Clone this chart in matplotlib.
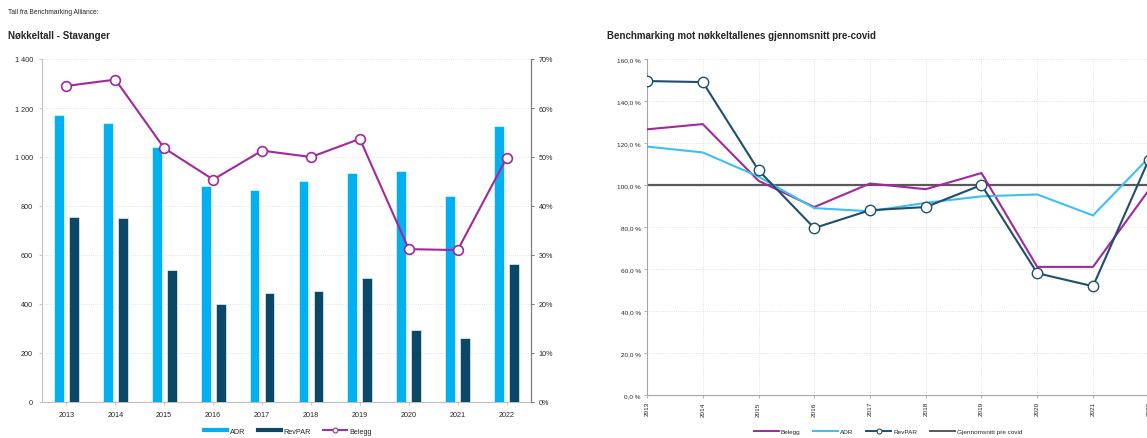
import numpy as np
import matplotlib
matplotlib.use("Agg")
import matplotlib.pyplot as plt
from matplotlib.lines import Line2D
from matplotlib.ticker import FuncFormatter, MultipleLocator

plt.rcParams['font.family'] = ['Liberation Sans', 'DejaVu Sans']

# Nøkkeltall Stavanger
years = ['2013', '2014', '2015', '2016', '2017', '2018', '2019', '2020', '2021', '2022']
adr = [1170, 1140, 1040, 880, 865, 903, 935, 942, 842, 1128]
revpar = [755, 750, 540, 400, 445, 452, 505, 293, 260, 563]
belegg = [64.5, 65.8, 51.8, 45.4, 51.3, 50.0, 53.7, 31.2, 31.0, 49.8]

# Indeks mot gjennomsnitt pre-covid (%)
idx_belegg = [126.5, 129.0, 102.0, 89.5, 100.7, 98.0, 105.7, 61.0, 61.0, 97.5]
idx_adr = [118.3, 115.5, 104.0, 89.0, 87.5, 91.5, 94.6, 95.5, 85.5, 113.0]
idx_revpar = [149.5, 149.0, 107.0, 79.5, 88.0, 89.5, 100.0, 58.0, 51.8, 112.0]
snitt_pre_covid = 100.0

c_adr = '#00b0f0'
c_revpar = '#0b4868'
c_belegg = '#a3289b'
c_snitt = '#595959'
c_text = '#262626'

W, H = 1147, 439
fig = plt.figure(figsize=(W / 100, H / 100), dpi=100)


def fx(px):
    return px / W


def fy(px):
    return 1 - px / H


fig.text(fx(8), fy(12), 'Tall fra Benchmarking Alliance:', fontsize=4.8,
         color=c_text, va='center')
fig.text(fx(8), fy(36), 'Nøkkeltall - Stavanger', fontsize=7,
         fontweight='bold', color=c_text, va='center')
fig.text(fx(607), fy(36), 'Benchmarking mot nøkkeltallenes gjennomsnitt pre-covid',
         fontsize=7, fontweight='bold', color=c_text, va='center')

# ---- left chart: bars + occupancy line ----
ax = fig.add_axes([fx(42), fy(403), fx(531 - 42), (403 - 60) / H])
x = np.arange(len(years))
ax.bar(x - 0.153, adr, width=0.2, color=c_adr, edgecolor='white', linewidth=0.4, zorder=3)
ax.bar(x + 0.153, revpar, width=0.2, color=c_revpar, edgecolor='white', linewidth=0.4, zorder=3)
ax.set_xlim(-0.5, len(years) - 0.5)
ax.set_ylim(0, 1400)
ax.yaxis.set_major_locator(MultipleLocator(200))
ax.yaxis.set_major_formatter(FuncFormatter(lambda v, p: f'{v:,.0f}'.replace(',', ' ')))
ax.set_xticks(x)
ax.set_xticklabels(years)
ax.grid(axis='y', color='#d9d9d9', linestyle=':', linewidth=0.6, zorder=0)
ax.tick_params(axis='both', labelsize=5.2, colors='#bfbfbf', labelcolor=c_text,
               length=2.5, width=0.6, pad=4)
for s in ['top', 'right']:
    ax.spines[s].set_visible(False)
for s in ['left', 'bottom']:
    ax.spines[s].set_color('#bfbfbf')
    ax.spines[s].set_linewidth(0.8)

ax2 = ax.twinx()
ax2.plot(x, belegg, color=c_belegg, lw=1.5, marker='o', ms=7,
         mfc='white', mec=c_belegg, mew=1.2, zorder=4)
ax2.set_ylim(0, 70)
ax2.yaxis.set_major_locator(MultipleLocator(10))
ax2.yaxis.set_major_formatter(FuncFormatter(lambda v, p: f'{v:.0f}%'))
ax2.tick_params(axis='y', labelsize=5.2, colors='#595959', labelcolor=c_text,
                length=2.5, width=0.6, pad=3)
for s in ['top', 'left', 'bottom']:
    ax2.spines[s].set_visible(False)
ax2.spines['right'].set_color('#7f7f7f')
ax2.spines['right'].set_linewidth(0.9)

leg_handles = [Line2D([], [], color=c_adr, lw=3),
               Line2D([], [], color=c_revpar, lw=3),
               Line2D([], [], color=c_belegg, lw=1.4, marker='o', ms=3.5,
                      mfc='white', mec=c_belegg, mew=0.8)]
fig.legend(leg_handles, ['ADR', 'RevPAR', 'Belegg'], loc='center',
           bbox_to_anchor=(fx(288), fy(432)), ncol=3, frameon=False,
           fontsize=5.2, handlelength=3.2, handletextpad=0.4, columnspacing=1.7,
           labelcolor=c_text)

# ---- right chart: index against pre-covid average ----
px_per_year = 55.75
left_px = 647
right_px = left_px + px_per_year * 9.6
bx = fig.add_axes([fx(left_px), fy(396), fx(right_px - left_px), (396 - 60) / H])
bx.axhline(snitt_pre_covid, color=c_snitt, lw=1.6, zorder=2)
bx.plot(x, idx_belegg, color=c_belegg, lw=1.5, zorder=3)
bx.plot(x, idx_adr, color='#3cc0f2', lw=1.5, zorder=3)
bx.plot(x, idx_revpar, color='#1f4e6e', lw=1.5, marker='o', ms=7.5,
        mfc='white', mec='#1f4e6e', mew=1.0, zorder=4)
bx.set_xlim(0, 9.6)
bx.set_ylim(0, 160)
bx.yaxis.set_major_locator(MultipleLocator(20))
bx.yaxis.set_major_formatter(FuncFormatter(lambda v, p: f'{v:.1f} %'.replace('.', ',')))
bx.set_xticks(x)
bx.set_xticklabels(years, rotation=90)
bx.grid(True, color='#d9d9d9', linestyle=':', linewidth=0.6, zorder=0)
bx.tick_params(axis='both', labelsize=4.6, colors='#a6a6a6', labelcolor=c_text,
               length=2.5, width=0.6, pad=2)
for s in ['top', 'right']:
    bx.spines[s].set_visible(False)
for s in ['left', 'bottom']:
    bx.spines[s].set_color('#a6a6a6')
    bx.spines[s].set_linewidth(0.8)

leg2_handles = [Line2D([], [], color=c_belegg, lw=1.4),
                Line2D([], [], color='#3cc0f2', lw=1.4),
                Line2D([], [], color='#1f4e6e', lw=1.4, marker='o', ms=3.5,
                       mfc='white', mec='#1f4e6e', mew=0.8),
                Line2D([], [], color=c_snitt, lw=1.4)]
fig.legend(leg2_handles, ['Belegg', 'ADR', 'RevPAR', 'Gjennomsnitt pre covid'],
           loc='center', bbox_to_anchor=(fx(888), fy(432)), ncol=4, frameon=False,
           fontsize=4.6, handlelength=3.9, handletextpad=0.3, columnspacing=2.0,
           labelcolor=c_text)

fig.savefig('out.png', dpi=100)
